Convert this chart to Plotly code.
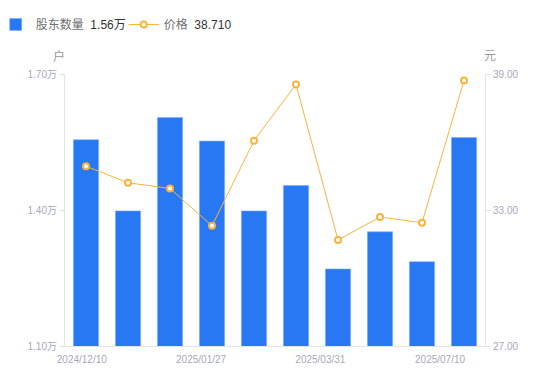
import plotly.graph_objects as go

# ---- data ----
bar_idx = list(range(10))
shareholders = [1.555, 1.398, 1.604, 1.552, 1.398, 1.454, 1.270, 1.352, 1.286, 1.560]  # 万户
price = [34.93, 34.20, 33.95, 32.30, 36.06, 38.54, 31.68, 32.69, 32.44, 38.71]  # 元
date_labels = ["2024/12/10", "2025/01/27", "2025/03/31", "2025/07/10"]
left_ticks = [1.10, 1.40, 1.70]
right_ticks = [27.0, 33.0, 39.0]

# layout constants
date_tick_pos = [-0.10, 2.74, 5.58, 8.43]
BLUE = "#2878F4"
ORANGE = "#FBB33A"
GREY_TXT = "#A7A9B6"
AXIS = "#E3E4E8"
FONT = "Arial, 'Liberation Sans', 'Noto Sans CJK SC', sans-serif"

fig = go.Figure()
fig.add_trace(go.Bar(
    x=bar_idx, y=shareholders, width=0.6,
    marker=dict(color=BLUE, line=dict(color="#7DAEF8", width=0.6)),
    name=f"股东数量  <span style='color:#333333'>{shareholders[-1]:.2f}万</span>",
    yaxis="y",
))
fig.add_trace(go.Scatter(
    x=bar_idx, y=price, mode="lines+markers",
    line=dict(color=ORANGE, width=1),
    marker=dict(symbol="circle", size=6, color="white", line=dict(color=ORANGE, width=2)),
    name=f"价格  <span style='color:#333333'>{price[-1]:.3f}</span>",
    yaxis="y2",
))

fig.update_layout(
    width=550, height=381,
    margin=dict(l=65, r=65, t=73.5, b=34.5, autoexpand=False),
    paper_bgcolor="white", plot_bgcolor="white",
    font=dict(family=FONT, size=10, color=GREY_TXT),
    bargap=0.4,
    showlegend=True,
    legend=dict(
        orientation="h", x=-0.165, xanchor="left", y=1.182, yanchor="middle",
        font=dict(size=12, color="#707070", family=FONT),
        entrywidth=83, entrywidthmode="pixels",
        itemclick=False, bgcolor="rgba(0,0,0,0)",
    ),
    xaxis=dict(
        range=[-0.5, 9.5], showgrid=False, zeroline=False, automargin=False,
        showline=True, linecolor=AXIS, linewidth=1,
        tickmode="array", tickvals=date_tick_pos, ticktext=date_labels,
        ticks="", ticklabelstandoff=4, tickfont=dict(size=10, color=GREY_TXT),
    ),
    yaxis=dict(
        range=[left_ticks[0], left_ticks[-1]], showgrid=False, zeroline=False,
        automargin=False,
        showline=True, linecolor=AXIS, linewidth=1,
        ticks="outside", ticklen=5, tickcolor=AXIS,
        tickmode="array", tickvals=left_ticks,
        ticktext=[f"{v:.2f}万" for v in left_ticks],
        tickfont=dict(size=10, color=GREY_TXT),
    ),
    yaxis2=dict(
        range=[right_ticks[0], right_ticks[-1]], overlaying="y", side="right",
        showgrid=False, zeroline=False, automargin=False,
        showline=True, linecolor=AXIS, linewidth=1,
        ticks="outside", ticklen=5, tickcolor=AXIS,
        tickmode="array", tickvals=right_ticks,
        ticktext=[f"{v:.2f}" for v in right_ticks],
        tickfont=dict(size=10, color=GREY_TXT),
    ),
    annotations=[
        dict(text="户", xref="paper", yref="paper", x=-0.015, y=1.065,
             xanchor="center", yanchor="middle", showarrow=False,
             font=dict(size=12, color="#999999", family=FONT)),
        dict(text="元", xref="paper", yref="paper", x=1.013, y=1.065,
             xanchor="center", yanchor="middle", showarrow=False,
             font=dict(size=12, color="#999999", family=FONT)),
    ],
)

fig.write_html("out.html", config={"displayModeBar": False},
               post_script="document.body.style.margin='0';")
